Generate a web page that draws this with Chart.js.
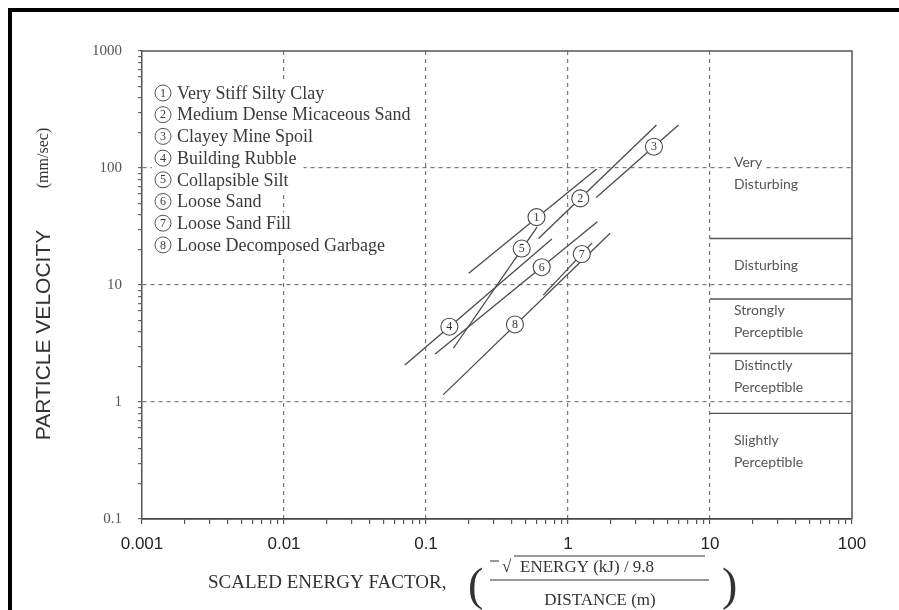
<!DOCTYPE html>
<html>
<head>
<meta charset="utf-8">
<script src="https://cdn.jsdelivr.net/npm/chart.js@4.4.0/dist/chart.umd.min.js"></script>
<style>
  html, body { margin: 0; padding: 0; background: #fff; }
</style>
</head>
<body>
<canvas id="chart" width="899" height="610"></canvas>
<script>
// soil types, numbered as in the legend
var soilNames = ['Very Stiff Silty Clay', 'Medium Dense Micaceous Sand', 'Clayey Mine Spoil', 'Building Rubble',
                 'Collapsible Silt', 'Loose Sand', 'Loose Sand Fill', 'Loose Decomposed Garbage'];

// each soil line: start and end (scaled energy factor, mm/sec)
var lineStartX = [0.2, 0.62, 1.58, 0.071, 0.156, 0.116, 0.67, 0.132];
var lineStartY = [12.6, 25, 56, 2.07, 2.88, 2.57, 8.2, 1.15];
var lineEndX = [1.59, 4.2, 6.0, 0.77, 0.605, 1.61, 1.48, 1.98];
var lineEndY = [98, 233, 233, 24.7, 31.3, 34.8, 22.9, 27.7];

// where the circled number sits on each line
var markX = [0.60, 1.22, 4.03, 0.146, 0.472, 0.653, 1.25, 0.423];
var markY = [38, 55, 152, 4.4, 20.5, 14.2, 18.4, 4.6];

// human response bands on the right hand side (x from 10 to 100)
var bandLimits = [25, 7.6, 2.6, 0.8];
var bandNames = [['Very', 'Disturbing'], ['Disturbing'], ['Strongly', 'Perceptible'],
                 ['Distinctly', 'Perceptible'], ['Slightly', 'Perceptible']];
var bandLabelY = [90, 14.8, 4.9, 1.64, 0.38];

// decade ticks
var xTicks = [0.001, 0.01, 0.1, 1, 10, 100];
var yTicks = [0.1, 1, 10, 100, 1000];

var ink = '#4a4a4a';

function isDecade(v) {
  var l = Math.log10(v);
  return Math.abs(l - Math.round(l)) < 1e-6;
}

// 1..9 marks in every decade
function decadeTicks(list) {
  var out = [];
  for (var i = 0; i < list.length - 1; i++) {
    for (var k = 1; k < 10; k++) out.push({ value: k * list[i] });
  }
  out.push({ value: list[list.length - 1] });
  return out;
}

function fmt(v) {
  return String(Number(v.toPrecision(3)));
}

// build datasets
var datasets = [];

var marks = [];
for (var i = 0; i < markX.length; i++) marks.push({ x: markX[i], y: markY[i] });
datasets.push({
  label: 'marks',
  data: marks,
  showLine: false,
  order: -1,
  pointRadius: 8.5,
  pointHoverRadius: 8.5,
  pointBackgroundColor: '#fff',
  pointBorderColor: ink,
  pointBorderWidth: 1.1
});

for (var i = 0; i < soilNames.length; i++) {
  datasets.push({
    label: soilNames[i],
    data: [{ x: lineStartX[i], y: lineStartY[i] }, { x: lineEndX[i], y: lineEndY[i] }],
    showLine: true,
    borderColor: ink,
    borderWidth: 1.3,
    pointRadius: 0
  });
}

for (var i = 0; i < bandLimits.length; i++) {
  datasets.push({
    label: 'band' + i,
    data: [{ x: xTicks[4], y: bandLimits[i] }, { x: xTicks[5], y: bandLimits[i] }],
    showLine: true,
    borderColor: '#555',
    borderWidth: 1.4,
    pointRadius: 0
  });
}

// the hand drawn bits: frame, legend, band names, titles, circled numbers
var decor = {
  id: 'decor',
  beforeDraw: function(chart) {
    var ctx = chart.ctx;
    ctx.save();
    ctx.fillStyle = '#fff';
    ctx.fillRect(0, 0, chart.width, chart.height);
    ctx.fillStyle = '#000';
    ctx.fillRect(8, 8, chart.width - 8, 4);
    ctx.fillRect(8, 8, 4, chart.height - 8);
    ctx.restore();
  },
  beforeDatasetsDraw: function(chart) {
    var ctx = chart.ctx, a = chart.chartArea;
    var xs = chart.scales.x, ys = chart.scales.y;
    ctx.save();
    // top and right border of the plot
    ctx.strokeStyle = '#555';
    ctx.lineWidth = 1.5;
    ctx.beginPath();
    ctx.moveTo(a.left, a.top);
    ctx.lineTo(a.right, a.top);
    ctx.lineTo(a.right, a.bottom);
    ctx.stroke();

    // legend
    ctx.font = '18px "Liberation Serif"';
    ctx.textBaseline = 'middle';
    for (var i = 0; i < soilNames.length; i++) {
      var cy = 93 + i * 21.7;
      var w = ctx.measureText(soilNames[i]).width;
      ctx.fillStyle = '#fff';
      ctx.fillRect(152, cy - 11, w + 32, 22);
      ctx.strokeStyle = '#555';
      ctx.lineWidth = 1;
      ctx.beginPath();
      ctx.arc(163, cy, 8, 0, Math.PI * 2);
      ctx.stroke();
      ctx.fillStyle = '#3a3a3a';
      ctx.textAlign = 'center';
      ctx.font = '12px "Liberation Serif"';
      ctx.fillText(String(i + 1), 163, cy + 0.5);
      ctx.font = '18px "Liberation Serif"';
      ctx.textAlign = 'left';
      ctx.fillText(soilNames[i], 177, cy + 1);
    }

    // band names
    ctx.font = '14px Lato';
    var bx = xs.getPixelForValue(xTicks[4]) + 24;
    for (var b = 0; b < bandNames.length; b++) {
      var by = ys.getPixelForValue(bandLabelY[b]);
      var lines = bandNames[b];
      var top = by - (lines.length - 1) * 11;
      for (var j = 0; j < lines.length; j++) {
        var tw = ctx.measureText(lines[j]).width;
        ctx.fillStyle = '#fff';
        ctx.fillRect(bx - 3, top + j * 22 - 10, tw + 6, 20);
        ctx.fillStyle = '#555';
        ctx.fillText(lines[j], bx, top + j * 22);
      }
    }
    ctx.restore();
  },
  afterDatasetsDraw: function(chart) {
    var ctx = chart.ctx;
    var meta = chart.getDatasetMeta(0);
    ctx.save();
    ctx.fillStyle = '#333';
    ctx.font = '12px "Liberation Serif"';
    ctx.textAlign = 'center';
    ctx.textBaseline = 'middle';
    meta.data.forEach(function(pt, i) {
      ctx.fillText(String(i + 1), pt.x, pt.y + 0.5);
    });

    // y axis title
    ctx.fillStyle = '#333';
    ctx.save();
    ctx.translate(44, 335);
    ctx.rotate(-Math.PI / 2);
    ctx.font = '21px "Liberation Sans"';
    ctx.fillText('PARTICLE VELOCITY', 0, 0);
    ctx.restore();
    ctx.save();
    ctx.translate(44, 158);
    ctx.rotate(-Math.PI / 2);
    ctx.font = '16px "Liberation Serif"';
    ctx.fillText('(mm/sec)', 0, 0);
    ctx.restore();

    // x axis title with the fraction
    ctx.font = '19px "Liberation Serif"';
    ctx.textAlign = 'left';
    ctx.textBaseline = 'alphabetic';
    ctx.fillText('SCALED ENERGY FACTOR,', 208, 588);
    ctx.font = '46px "Liberation Serif"';
    ctx.fillText('(', 468, 600);
    ctx.fillText(')', 722, 600);
    ctx.font = '17px "Liberation Serif"';
    ctx.fillText('\u221A', 502, 572);
    ctx.fillText('ENERGY (kJ) / 9.8', 520, 572);
    ctx.textAlign = 'center';
    ctx.fillText('DISTANCE (m)', 600, 605);
    ctx.strokeStyle = '#333';
    ctx.lineWidth = 1.2;
    ctx.beginPath();
    ctx.moveTo(490, 561); ctx.lineTo(499, 561);
    ctx.moveTo(514, 556); ctx.lineTo(705, 556);
    ctx.moveTo(490, 580); ctx.lineTo(709, 580);
    ctx.stroke();
    ctx.restore();
  }
};

function gridColor(ctx) {
  var t = ctx.tick;
  if (!t) return 'rgba(0,0,0,0)';
  var v = t.value;
  var s = ctx.scale;
  if (!isDecade(v) || Math.abs(v - s.min) < 1e-9 || Math.abs(v - s.max) < 1e-9) return 'rgba(0,0,0,0)';
  return '#777';
}

new Chart(document.getElementById('chart'), {
  type: 'scatter',
  data: { datasets: datasets },
  plugins: [decor],
  options: {
    responsive: false,
    devicePixelRatio: 1,
    animation: false,
    layout: { padding: { left: 0, top: 51, right: 47, bottom: 0 } },
    plugins: { legend: { display: false }, tooltip: { enabled: false } },
    scales: {
      x: {
        type: 'logarithmic',
        position: 'bottom',
        min: xTicks[0],
        max: xTicks[xTicks.length - 1],
        afterBuildTicks: function(s) { s.ticks = decadeTicks(xTicks); },
        afterFit: function(s) { s.height = 91; },
        grid: { color: gridColor, lineWidth: 1.2, tickColor: '#555', tickLength: 5 },
        border: { color: '#444', width: 1.8, dash: [4, 4] },
        ticks: {
          autoSkip: false,
          maxRotation: 0,
          padding: 10,
          color: '#222',
          font: { family: '"Liberation Sans"', size: 17 },
          callback: function(v) { return isDecade(v) ? fmt(v) : ''; }
        }
      },
      y: {
        type: 'logarithmic',
        position: 'left',
        min: yTicks[0],
        max: yTicks[yTicks.length - 1],
        afterBuildTicks: function(s) { s.ticks = decadeTicks(yTicks); },
        afterFit: function(s) { s.width = 142; },
        grid: { color: gridColor, lineWidth: 1.2, tickColor: '#666', tickLength: 4 },
        border: { color: '#555', width: 1.5, dash: [4, 4] },
        ticks: {
          autoSkip: false,
          padding: 16,
          color: '#555',
          font: { family: '"Liberation Serif"', size: 15 },
          callback: function(v) { return isDecade(v) ? fmt(v) : ''; }
        }
      }
    }
  }
});
</script>
</body>
</html>
